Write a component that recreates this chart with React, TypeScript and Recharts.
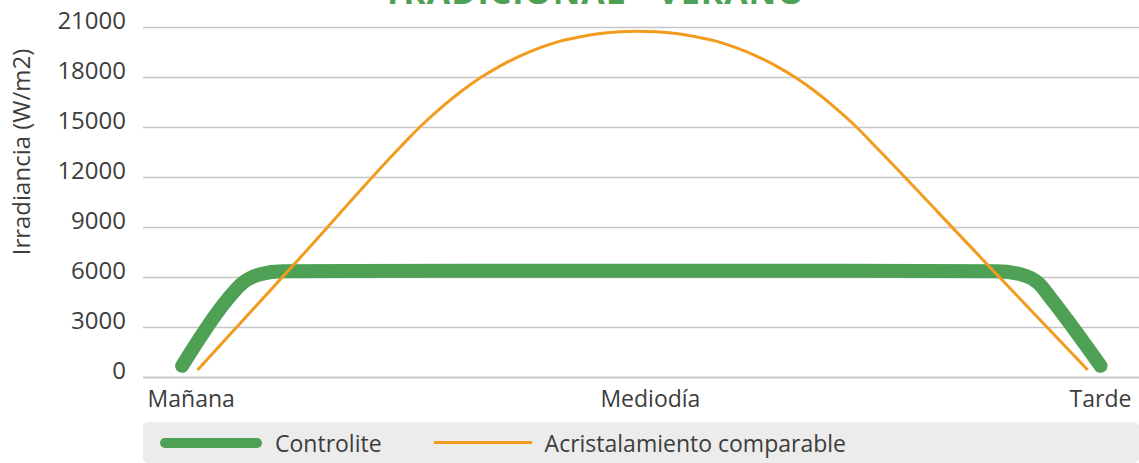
import React from 'react';
import { LineChart, Line, XAxis, YAxis, CartesianGrid, Legend, Label } from 'recharts';

// time along the day: 0 = Mañana, 50 = Mediodía, 100 = Tarde
const controliteTime = [-1, 4, 5.6, 7.6, 10, 30, 50, 70, 88.6, 91.2, 93.2, 94.6, 100];
const controliteValues = [700, 4700, 5650, 6200, 6380, 6400, 6400, 6400, 6380, 6200, 5650, 4700, 700];

const comparableTime = [
  0.7, 12, 23, 25.2, 27.4, 29.6, 31.8, 34, 36.2, 38.4, 40.6, 42.8, 45, 47.2, 49.1,
  51.1, 53.3, 55.5, 57.7, 59.9, 62.1, 64.3, 66.5, 68.7, 70.9, 73.1, 75.3, 87, 98.6,
];
const comparableValues = [
  450, 7200, 13830, 15060, 16150, 17130, 17980, 18700, 19300, 19790, 20180, 20440, 20640, 20740, 20770,
  20740, 20640, 20440, 20180, 19790, 19300, 18700, 17980, 17130, 16150, 15060, 13830, 7100, 450,
];

const xTicks = [0, 50.5, 100];
const xTickLabels = ['Mañana', 'Mediodía', 'Tarde'];
const yTicks = [0, 3000, 6000, 9000, 12000, 15000, 18000, 21000];

const seriesNames = ['Controlite', 'Acristalamiento comparable'];
const title = 'TRADICIONAL - VERANO';
const yTitle = 'Irradiancia (W/m2)';

const GREEN = '#4ea055';
const ORANGE = '#f29b1f';
const TEXT = '#3d3d3d';
const FONT = '"Open Sans", sans-serif';

const controliteData = controliteTime.map((t, i) => ({ t, v: controliteValues[i] }));
const comparableData = comparableTime.map((t, i) => ({ t, v: comparableValues[i] }));

const YTick = (props: any) => {
  const { x, y, payload } = props;
  return (
    <text x={x - 15} y={y - 7} dy="0.355em" textAnchor="end" fill={TEXT} fontSize={24} fontFamily={FONT}>
      {payload.value}
    </text>
  );
};

const LegendBox = () => (
  <div
    style={{
      width: 996,
      height: 41,
      background: '#ececec',
      borderRadius: 5,
      display: 'flex',
      alignItems: 'center',
      fontFamily: FONT,
      fontSize: 23,
      color: TEXT,
      boxSizing: 'border-box',
      paddingLeft: 17,
    }}
  >
    <span style={{ display: 'inline-block', width: 102, height: 10, borderRadius: 5, background: GREEN }} />
    <span style={{ marginLeft: 13 }}>{seriesNames[0]}</span>
    <span style={{ display: 'inline-block', width: 98, height: 3, background: ORANGE, marginLeft: 52 }} />
    <span style={{ marginLeft: 13 }}>{seriesNames[1]}</span>
  </div>
);

export default function App() {
  return (
    <div style={{ position: 'absolute', top: 0, left: 0, width: 1139, height: 463, overflow: 'hidden', background: '#fff' }}>
      <div
        style={{
          position: 'absolute',
          top: -26,
          left: 0,
          width: 1188,
          textAlign: 'center',
          fontFamily: FONT,
          fontWeight: 700,
          fontSize: 34,
          lineHeight: 1,
          letterSpacing: 1,
          color: GREEN,
        }}
      >
        {title}
      </div>
      <LineChart width={1160} height={463} margin={{ top: 27.5, right: 14, left: 0, bottom: 0 }}>
        <CartesianGrid vertical={false} stroke="#c6c6c6" strokeWidth={1.5} />
        <XAxis
          dataKey="t"
          type="number"
          domain={[-5.3, 105]}
          ticks={xTicks}
          tickFormatter={(v: number) => xTickLabels[xTicks.indexOf(v)]}
          tickLine={false}
          tickSize={0}
          tickMargin={13}
          height={44.5}
          axisLine={{ stroke: '#c6c6c6', strokeWidth: 1.5 }}
          tick={{ fill: TEXT, fontSize: 23, fontFamily: FONT }}
          allowDataOverflow
        />
        <YAxis
          dataKey="v"
          type="number"
          domain={[0, 21000]}
          ticks={yTicks}
          width={143}
          axisLine={false}
          tickLine={false}
          tickSize={0}
          tick={<YTick />}
        >
          <Label
            content={() => (
              <text
                x={20}
                y={152}
                transform="rotate(-90 20 152)"
                textAnchor="middle"
                dominantBaseline="central"
                fill={TEXT}
                fontSize={24}
                fontFamily={FONT}
              >
                {yTitle}
              </text>
            )}
          />
        </YAxis>
        <Legend
          verticalAlign="bottom"
          height={41}
          wrapperStyle={{ left: 143, width: 996, bottom: 0 }}
          content={() => <LegendBox />}
        />
        <Line
          data={controliteData}
          dataKey="v"
          name={seriesNames[0]}
          type="monotone"
          stroke={GREEN}
          strokeWidth={14}
          strokeLinecap="round"
          strokeLinejoin="round"
          dot={false}
          isAnimationActive={false}
        />
        <Line
          data={comparableData}
          dataKey="v"
          name={seriesNames[1]}
          type="monotone"
          stroke={ORANGE}
          strokeWidth={3}
          dot={false}
          isAnimationActive={false}
        />
      </LineChart>
    </div>
  );
}
